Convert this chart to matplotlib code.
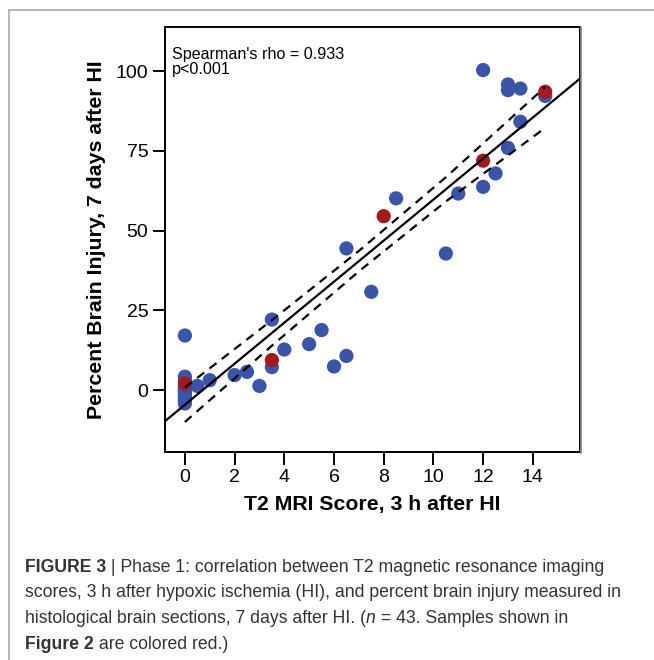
import numpy as np
import matplotlib
matplotlib.use("Agg")
import matplotlib.pyplot as plt
from matplotlib.lines import Line2D
from matplotlib.text import Annotation

plt.rcParams["font.family"] = ["Liberation Sans", "DejaVu Sans"]

# ── Data ─────────────────────────────────────────────────────────────────
# Samples not in Figure 2 (blue)
blue_x = [0, 0, 0, 0, 0, 0, 0, 0, 0, 0, 0, 0.5, 1, 2, 2.5, 3, 3.5, 3.5,
          4, 5, 5.5, 6, 6.5, 6.5, 7.5, 8.5, 10.5, 11, 12, 12, 12.5, 13,
          13, 13, 13.5, 13.5, 14.5, 0]
blue_y = [17.1, 4.2, 1.0, -1.0, -2.6, -4.2, 0.0, -0.5, -3.5, -2.0, 3.0, 1.3,
          3.1, 4.7, 5.7, 1.3, 22.1, 7.2, 12.7, 14.4, 18.8, 7.4, 44.4, 10.7,
          30.8, 60.1, 42.8, 61.6, 100.3, 63.7, 67.9, 95.8, 94.0, 75.9, 94.5,
          84.1, 92.2, 0.5]
# Samples shown in Figure 2 (red)
red_x = [0, 3.5, 8, 12, 14.5]
red_y = [2.1, 9.4, 54.5, 71.9, 93.5]

# Fitted line (intercept, slope) and its confidence band
fit_intercept = -4.6
fit_slope = 6.43
band_x = [0, 3.5, 7, 10.5, 14.5]
band_upper = [0.8, 21.9, 43.6, 66.7, 95.0]
band_lower = [-10.0, 13.9, 37.2, 59.1, 82.2]

x_ticks = [0, 2, 4, 6, 8, 10, 12, 14]
y_ticks = [0, 25, 50, 75, 100]

C_BLUE = "#3a55a8"
C_RED = "#a3191f"

fig = plt.figure(figsize=(6.54, 6.6), dpi=100)
ax = fig.add_axes([0.2523, 0.3152, 0.6346, 0.6439])

xlim = (-0.8, 15.9)
ax.set_xlim(*xlim)
ax.set_ylim(-19.4, 113.8)

xl = np.array(xlim)
ax.plot(xl, fit_intercept + fit_slope * xl, color="black", lw=1.6, zorder=3)
ax.plot(band_x, band_upper, color="black", lw=1.6, ls=(0, (4, 3)), zorder=3)
ax.plot(band_x, band_lower, color="black", lw=1.6, ls=(0, (4, 3)), zorder=3)

ax.scatter(blue_x, blue_y, s=105, color=C_BLUE, edgecolors="none", zorder=2)
ax.scatter(red_x, red_y, s=105, color=C_RED, edgecolors="none", zorder=2)

ax.text(0.017, 0.952, "Spearman's rho = 0.933\np<0.001", transform=ax.transAxes,
        ha="left", va="top", fontsize=11.6, linespacing=1.0)

ax.set_xticks(x_ticks)
ax.set_yticks(y_ticks)
ax.tick_params(direction="out", length=9, width=1.4, labelsize=14, pad=3)
for s in ax.spines.values():
    s.set_linewidth(1.4)

ax.set_xlabel("T2 MRI Score, 3 h after HI", fontsize=15.3, fontweight="bold",
              labelpad=7)
ax.set_ylabel("Percent Brain Injury, 7 days after HI", fontsize=15.3,
              fontweight="bold", labelpad=7)

# shadow on right spine
fig.add_artist(Line2D([0.8890, 0.8890], [0.3135, 0.9585], color="#888888",
                      lw=1.2, transform=fig.transFigure))

# outer frame (top and left)
fig.add_artist(Line2D([0.0138, 1.0], [0.985, 0.985], color="#aaaaaa", lw=1.2,
                      transform=fig.transFigure))
fig.add_artist(Line2D([0.0138, 0.0138], [0.0, 0.985], color="#aaaaaa", lw=1.2,
                      transform=fig.transFigure))

# ── Caption ──────────────────────────────────────────────────────────────
caption = [
    (0.128, [("FIGURE 3", "b"), (" | Phase 1: correlation between T2 magnetic "
                                 "resonance imaging", "n")]),
    (0.089, [("scores, 3 h after hypoxic ischemia (HI), and percent brain "
              "injury measured in", "n")]),
    (0.050, [("histological brain sections, 7 days after HI. (", "n"),
             ("n", "i"), (" = 43. Samples shown in", "n")]),
    (0.011, [("Figure 2", "b"), (" are colored red.)", "n")]),
]

for y, pieces in caption:
    prev = None
    for txt, style in pieces:
        kw = dict(fontsize=12.7, color="#333333", va="bottom", ha="left")
        if style == "b":
            kw["fontweight"] = "bold"
        elif style == "i":
            kw["fontstyle"] = "italic"
        if prev is None:
            prev = fig.text(0.038, y, txt, **kw)
        else:
            prev = fig.add_artist(Annotation(txt, xy=(1, 0), xycoords=prev,
                                             annotation_clip=False, **kw))

fig.savefig("out.png", dpi=100)
